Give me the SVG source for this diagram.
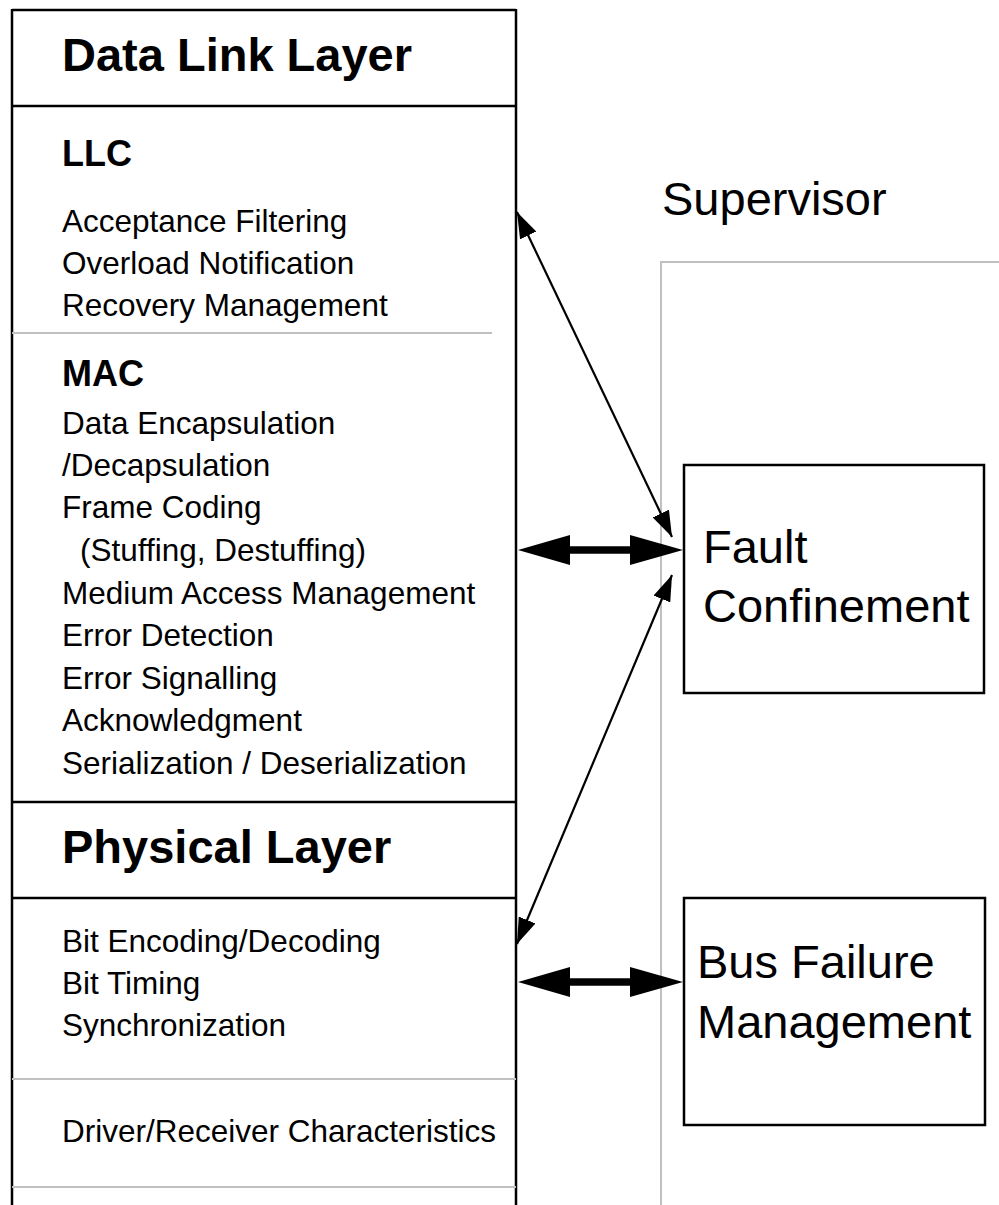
<svg xmlns="http://www.w3.org/2000/svg" width="999" height="1205" viewBox="0 0 999 1205">
<style>
.blk{stroke:#000;stroke-width:2.5;fill:none}
.gry{stroke:#c0c0c0;stroke-width:2;fill:none}
.t{font-family:"Liberation Sans",Arial,sans-serif;font-size:31.5px;fill:#000}
.h1{font-family:"Liberation Sans",Arial,sans-serif;font-size:47px;font-weight:bold;fill:#000}
.h2{font-family:"Liberation Sans",Arial,sans-serif;font-size:36px;font-weight:bold;fill:#000}
.big{font-family:"Liberation Sans",Arial,sans-serif;font-size:47px;fill:#000}
.thin{stroke:#000;stroke-width:2.2;fill:none}
.thick{stroke:#000;stroke-width:7.5;fill:none}
</style>
<defs>
<marker id="ah" viewBox="0 0 26 18" refX="26" refY="9" markerWidth="26" markerHeight="18" markerUnits="userSpaceOnUse" orient="auto-start-reverse">
<path d="M0,0 L26,9 L0,18 z" fill="#000"/>
</marker>
</defs>
<rect width="999" height="1205" fill="#fff"/>
<g id="protocol-stack">
<line class="blk" x1="12" y1="10" x2="516" y2="10"/>
<line class="blk" x1="12" y1="9" x2="12" y2="1205"/>
<line class="blk" x1="516" y1="9" x2="516" y2="1205"/>
<line class="blk" x1="12" y1="106" x2="516" y2="106"/>
<line class="gry" x1="12" y1="333" x2="492" y2="333"/>
<line class="blk" x1="12" y1="802" x2="516" y2="802"/>
<line class="blk" x1="12" y1="898" x2="516" y2="898"/>
<line class="gry" x1="12" y1="1079" x2="516" y2="1079"/>
<line class="gry" x1="12" y1="1187" x2="516" y2="1187"/>
<text class="h1" x="62" y="71">Data Link Layer</text>
<text class="h2" x="62" y="166">LLC</text>
<text class="t" x="62" y="232">Acceptance Filtering</text>
<text class="t" x="62" y="274">Overload Notification</text>
<text class="t" x="62" y="316">Recovery Management</text>
<text class="h2" x="62" y="386">MAC</text>
<text class="t" x="62" y="434">Data Encapsulation</text>
<text class="t" x="62" y="476">/Decapsulation</text>
<text class="t" x="62" y="518">Frame Coding</text>
<text class="t" x="80" y="561">(Stuffing, Destuffing)</text>
<text class="t" x="62" y="604">Medium Access Management</text>
<text class="t" x="62" y="646">Error Detection</text>
<text class="t" x="62" y="689">Error Signalling</text>
<text class="t" x="62" y="731">Acknowledgment</text>
<text class="t" x="62" y="774">Serialization / Deserialization</text>
<text class="h1" x="62" y="863">Physical Layer</text>
<text class="t" x="62" y="952">Bit Encoding/Decoding</text>
<text class="t" x="62" y="994">Bit Timing</text>
<text class="t" x="62" y="1036">Synchronization</text>
<text class="t" x="62" y="1142">Driver/Receiver Characteristics</text>
</g>
<g id="supervisor">
<polyline class="gry" points="999,262 661,262 661,1205"/>
<text class="big" x="662" y="215">Supervisor</text>
</g>
<g id="fault-confinement">
<rect class="blk" x="684" y="465" width="300" height="228"/>
<text class="big" x="703" y="563">Fault</text>
<text class="big" x="703" y="622">Confinement</text>
</g>
<g id="bus-failure-management">
<rect class="blk" x="684" y="898" width="301" height="227"/>
<text class="big" x="697" y="978">Bus Failure</text>
<text class="big" x="697" y="1038">Management</text>
</g>
<g id="connectors">
<line class="thin" x1="517" y1="212" x2="672" y2="537" marker-start="url(#ah)" marker-end="url(#ah)"/>
<line class="thin" x1="517" y1="944" x2="672" y2="575" marker-start="url(#ah)" marker-end="url(#ah)"/>
<line class="thick" x1="568" y1="550" x2="632" y2="550"/>
<polygon points="518,550 570,535 570,565" fill="#000"/>
<polygon points="683,550 630,535 630,565" fill="#000"/>
<line class="thick" x1="568" y1="982" x2="632" y2="982"/>
<polygon points="518,982 570,967 570,997" fill="#000"/>
<polygon points="683,982 630,967 630,997" fill="#000"/>
</g>
</svg>
